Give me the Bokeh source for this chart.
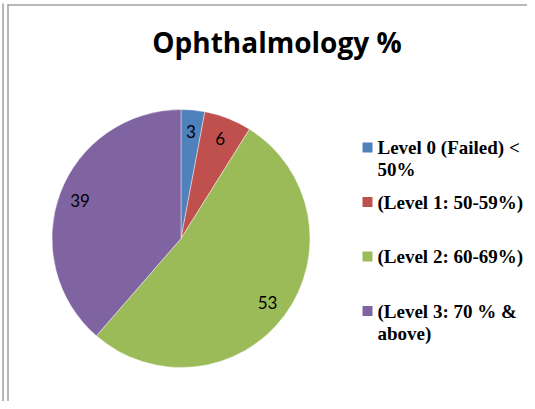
import math
from bokeh.plotting import figure
from bokeh.models import Range1d, ColumnDataSource
from bokeh.core.properties import value
from bokeh.embed import file_html
from bokeh.resources import INLINE

# ---- data ----
title = "Ophthalmology %"
categories = ["Level 0 (Failed) < 50%", "(Level 1: 50-59%)", "(Level 2: 60-69%)", "(Level 3: 70 % & above)"]
legend_lines = [["Level 0 (Failed) <", "50%"], ["(Level 1: 50-59%)"], ["(Level 2: 60-69%)"], ["(Level 3: 70 % &", "above)"]]
values = [3, 6, 53, 39]
colors = ["#4F81BD", "#C0504D", "#9BBB59", "#8064A2"]

W, H = 527, 401
p = figure(width=W, height=H, output_backend="svg", toolbar_location=None,
           x_range=Range1d(0, W), y_range=Range1d(0, H), min_border=0)
p.axis.visible = False
p.grid.visible = False
p.outline_line_color = None
p.background_fill_color = "white"
p.border_fill_color = "white"

# pie geometry
cx, cy, R = 180.5, 163.0, 129.0
total = sum(values)
starts, ends, mids = [], [], []
cum = 0.0
for v in values:
    a0 = math.pi / 2 - 2 * math.pi * cum / total
    a1 = math.pi / 2 - 2 * math.pi * (cum + v) / total
    starts.append(a1)
    ends.append(a0)
    mids.append((a0 + a1) / 2)
    cum += v

src = ColumnDataSource(dict(start=starts, end=ends, color=colors, val=values))
p.wedge(x=cx, y=cy, radius=R, start_angle="start", end_angle="end",
        fill_color="color", line_color="white", line_width=0.6, line_alpha=0.7, source=src)

lr = 0.835 * R
lab = ColumnDataSource(dict(x=[cx + lr * math.cos(m) for m in mids],
                            y=[cy + lr * math.sin(m) for m in mids],
                            t=[str(v) for v in values]))
p.text(x="x", y="y", text="t", source=lab, text_align="center", text_baseline="middle",
       text_font=value("Lato"), text_font_size="17px", text_color="#000000")

# title
p.text(x=[276.5], y=[360], text=[title], text_align="center", text_baseline="middle",
       text_font=value("Open Sans"), text_font_size="28px", text_font_style="bold", text_color="#000000")

# legend
first_mid, step, line_step = 254.0, 54.5, 22.0
mx, my = [], []
tx, ty, tt = [], [], []
for i, lines in enumerate(legend_lines):
    m = first_mid - i * step
    mx.append(367)
    my.append(m)
    for j, ln in enumerate(lines):
        tx.append(377)
        ty.append(m - j * line_step)
        tt.append(ln)
p.scatter(x=mx, y=my, marker="square", size=10, fill_color=colors, line_color=None)
p.text(x=tx, y=ty, text=tt, text_align="left", text_baseline="middle",
       text_font=value("Liberation Serif"), text_font_size="19px", text_font_style="bold",
       text_color="#000000")

# page / chart-area borders
p.segment(x0=[2.5, 7.5, 7.0], y0=[0, 0, 396.5], x1=[2.5, 7.5, W], y1=[398, 397, 396.5],
          line_color="#A0A0A0", line_width=1.5)

open("out.html", "w").write(file_html(p, INLINE))
